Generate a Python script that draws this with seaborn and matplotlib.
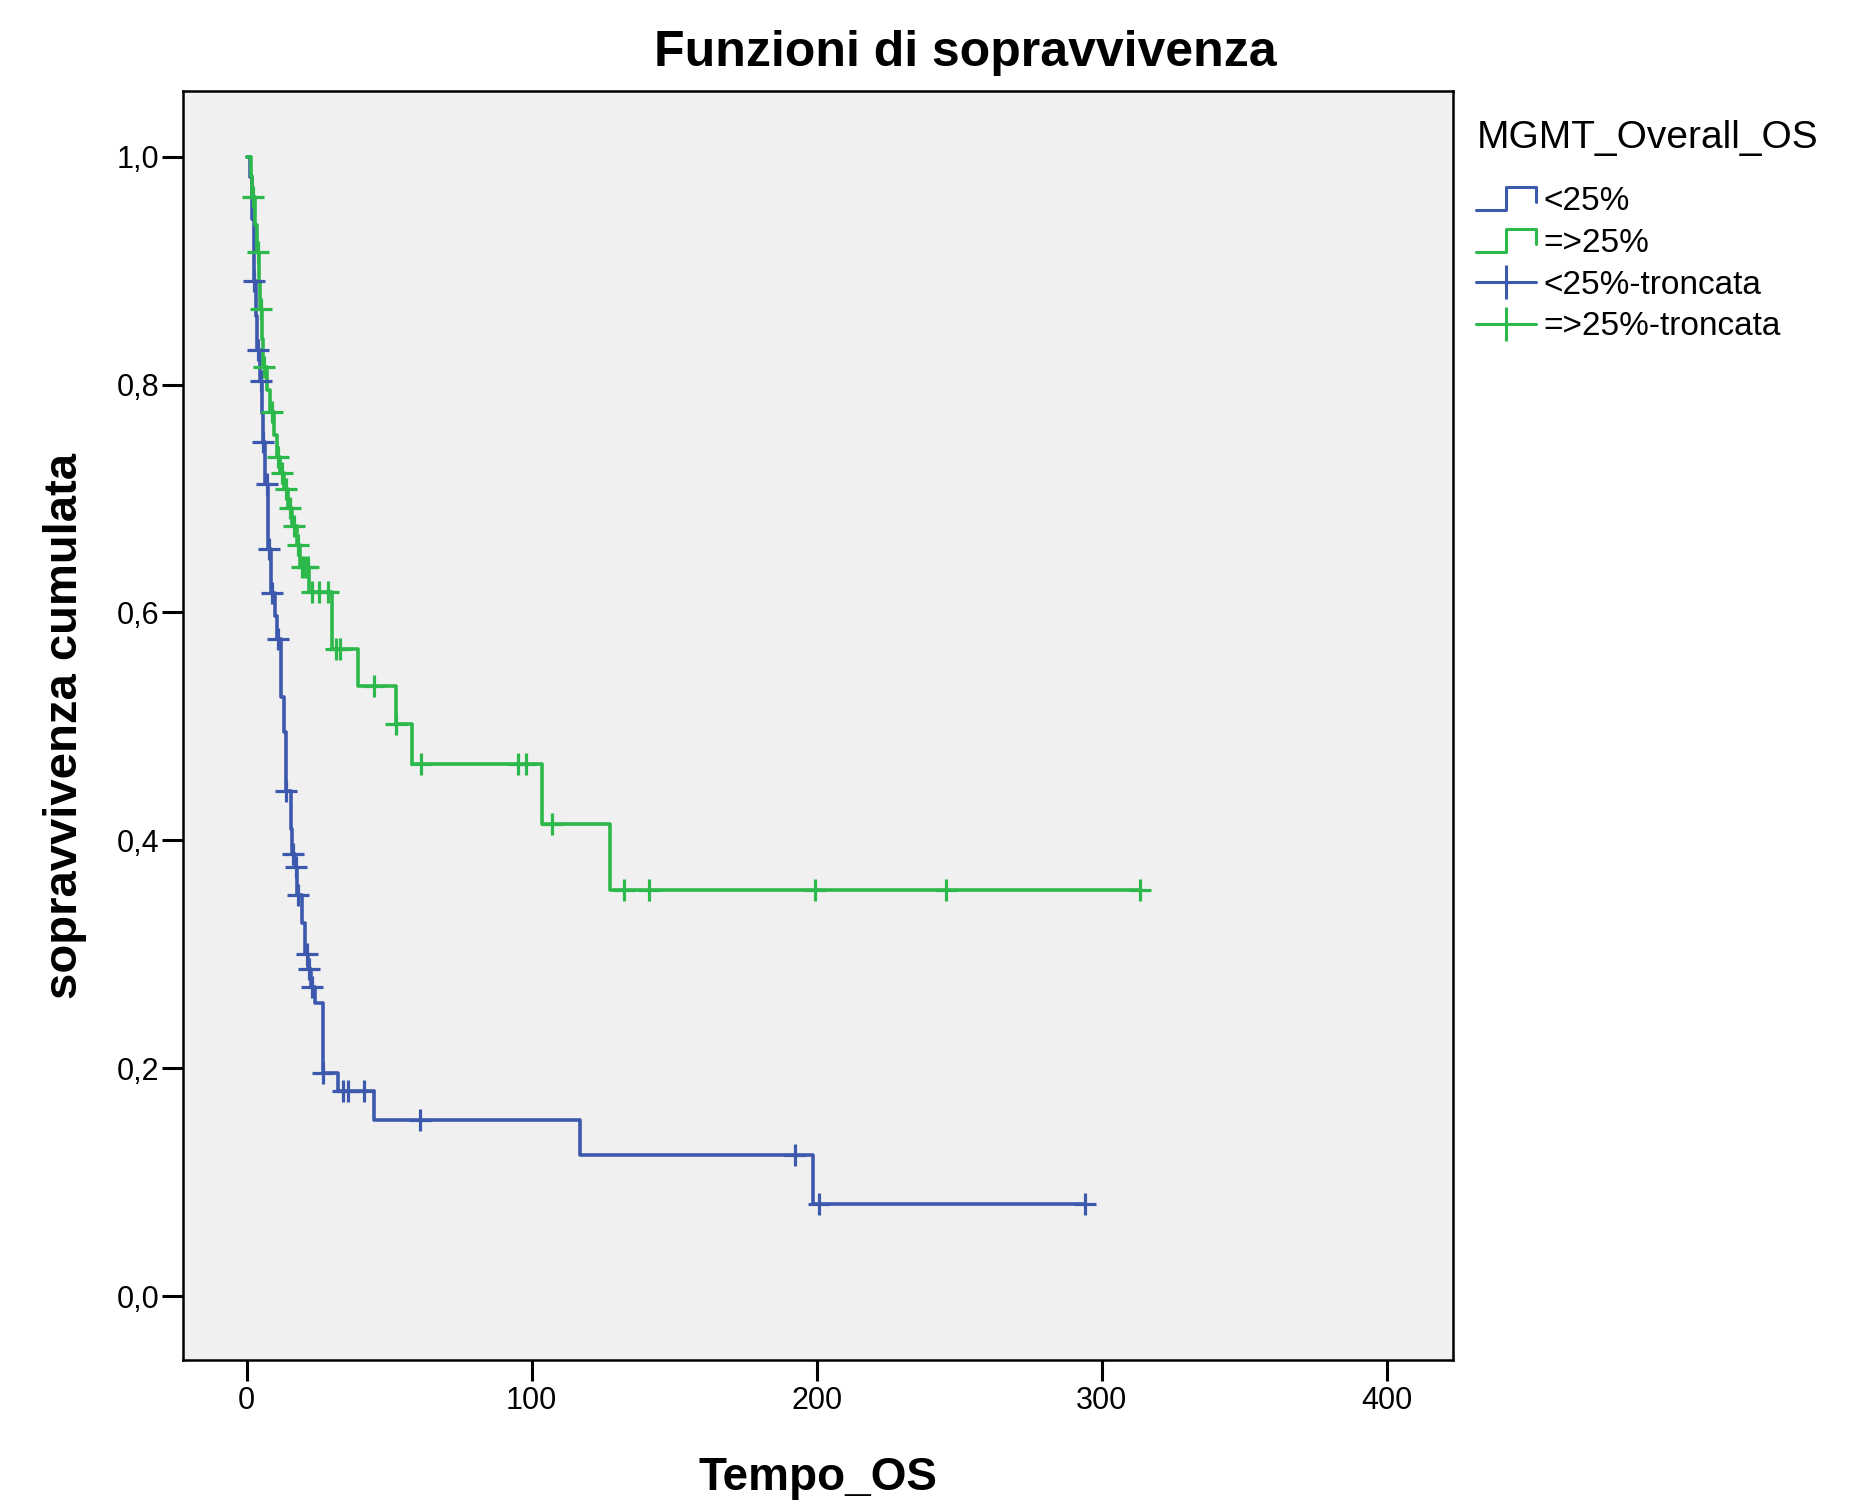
import matplotlib
matplotlib.use("Agg")
import matplotlib.pyplot as plt
import seaborn as sns
from matplotlib.lines import Line2D
from matplotlib.legend_handler import HandlerBase
from matplotlib.ticker import FuncFormatter

# step curves: time where the curve drops, survival after the drop
blu_t = [0, 1.2, 2.0, 2.4, 3.3, 3.7, 4.5, 5.3, 5.6, 6.5, 7.4, 7.6, 8.5, 10.0, 10.6, 12.0, 13.2,
         13.7, 15.5, 16.0, 16.8, 17.6, 19.3, 20.3, 21.6, 22.4, 24.0, 26.9, 32.1, 44.8, 117, 198.8, 294]
blu_s = [1.0, 0.982, 0.945, 0.891, 0.86, 0.830, 0.803, 0.775, 0.750, 0.713, 0.685, 0.656, 0.617,
         0.597, 0.577, 0.526, 0.495, 0.443, 0.410, 0.388, 0.377, 0.352, 0.327, 0.300, 0.287, 0.271,
         0.257, 0.196, 0.180, 0.1545, 0.124, 0.081, 0.081]

grn_t = [0, 1.5, 2.0, 3.0, 3.6, 4.3, 4.7, 5.3, 5.8, 7.0, 8.3, 9.5, 10.5, 11.8, 13.2, 14.5, 16.0,
         17.5, 18.8, 22.0, 30.0, 39.2, 52.3, 58.0, 103.5, 127.5, 313.3]
grn_s = [1.0, 0.983, 0.965, 0.94, 0.916, 0.89, 0.866, 0.84, 0.815, 0.795, 0.776, 0.756, 0.736,
         0.722, 0.708, 0.692, 0.676, 0.659, 0.640, 0.618, 0.568, 0.535, 0.502, 0.467, 0.414, 0.356, 0.356]

# censored cases (troncata)
blu_cens_t = [2.7, 3.9, 4.9, 5.8, 7.0, 7.8, 9.0, 11.1, 13.8, 16.1, 17.1, 18.1, 21.0, 22.0, 22.8,
              26.9, 33.9, 35.5, 41.2, 60.7, 192.5, 200.9, 294]
blu_cens_s = [0.891, 0.830, 0.803, 0.750, 0.713, 0.656, 0.617, 0.577, 0.443, 0.388, 0.377, 0.352,
              0.300, 0.287, 0.271, 0.196, 0.180, 0.180, 0.180, 0.1545, 0.124, 0.081, 0.081]
grn_cens_t = [2.3, 3.9, 4.9, 6.1, 8.8, 11.1, 12.3, 13.8, 15.0, 16.6, 18.1, 19.3, 20.5, 21.6, 22.8,
              25.5, 28.6, 31.3, 32.7, 44.7, 52.5, 61.0, 95.3, 98.0, 107.2, 132.3, 141.0, 199.3,
              245.4, 313.3]
grn_cens_s = [0.965, 0.916, 0.866, 0.815, 0.776, 0.736, 0.722, 0.708, 0.692, 0.676, 0.659, 0.640,
              0.640, 0.640, 0.618, 0.618, 0.618, 0.568, 0.568, 0.535, 0.502, 0.467, 0.467, 0.467,
              0.414, 0.356, 0.356, 0.356, 0.356, 0.356]

labels = ["<25%", "=>25%", "<25%-troncata", "=>25%-troncata"]
blue = "#3d59ae"
green = "#2cb84a"

sns.set_style("white")
plt.rcParams["font.family"] = ["Liberation Sans", "DejaVu Sans"]
plt.rcParams["text.color"] = "black"
plt.rcParams["axes.labelcolor"] = "black"

fig = plt.figure(figsize=(18.64, 15.06), dpi=100)
ax = fig.add_axes([0.098, 0.097, 0.6815, 0.8425])
ax.set_facecolor("#f0f0f0")

sns.lineplot(x=blu_t, y=blu_s, drawstyle="steps-post", estimator=None, sort=False,
             color=blue, lw=2.6, ax=ax)
sns.lineplot(x=grn_t, y=grn_s, drawstyle="steps-post", estimator=None, sort=False,
             color=green, lw=2.6, ax=ax)
sns.scatterplot(x=blu_cens_t, y=blu_cens_s, marker="+", s=260, linewidth=2.3, color=blue, ax=ax, zorder=3)
sns.scatterplot(x=grn_cens_t, y=grn_cens_s, marker="+", s=260, linewidth=2.3, color=green, ax=ax, zorder=3)

ax.set_xlim(-22.5, 423.3)
ax.set_ylim(-0.056, 1.0575)
ax.set_xticks([0, 100, 200, 300, 400])
ax.set_yticks([0, 0.2, 0.4, 0.6, 0.8, 1.0])
ax.yaxis.set_major_formatter(FuncFormatter(lambda v, p: f"{v:.1f}".replace(".", ",")))
ax.tick_params(axis="both", length=15, width=2.2, color="black", labelsize=22, labelcolor="black")
ax.tick_params(axis="x", pad=4)
ax.tick_params(axis="y", pad=2)
ax.tick_params(bottom=True, left=True)
for sp in ax.spines.values():
    sp.set_visible(True)
    sp.set_color("black")
    sp.set_linewidth(1.8)

ax.set_xlabel("Tempo_OS", fontsize=33, fontweight="bold", va="center")
ax.xaxis.set_label_coords(0.5, -0.093)
ax.set_ylabel("sopravvivenza cumulata", fontsize=34, fontweight="bold", va="center")
ax.yaxis.set_label_coords(-0.0927, 0.5)

fig.text(0.518, 0.9645, "Funzioni di sopravvivenza", fontsize=36, fontweight="bold",
         ha="center", va="center")


class StepHandler(HandlerBase):
    def create_artists(self, legend, orig_handle, xdescent, ydescent, width, height, fontsize, trans):
        x0, y0 = -xdescent, -ydescent
        xs = [x0, x0 + 0.5 * width, x0 + 0.5 * width, x0 + width, x0 + width]
        ys = [y0, y0, y0 + height, y0 + height, y0 + 0.35 * height]
        ln = Line2D(xs, ys, color=orig_handle.get_color(), lw=orig_handle.get_linewidth())
        ln.set_transform(trans)
        return [ln]


h_blu = Line2D([], [], color=blue, lw=2.2)
h_grn = Line2D([], [], color=green, lw=2.2)
h_blu_c = Line2D([0], [0], color=blue, lw=2.2, marker="|", ms=24, mew=2.2)
h_grn_c = Line2D([0], [0], color=green, lw=2.2, marker="|", ms=24, mew=2.2)

leg = ax.legend([h_blu, h_grn, h_blu_c, h_grn_c], labels,
                handler_map={h_blu: StepHandler(), h_grn: StepHandler()},
                loc="upper left", bbox_to_anchor=(1.008, 0.988), frameon=False,
                fontsize=24, title="MGMT_Overall_OS", title_fontsize=28, alignment="left",
                handlelength=1.8, handletextpad=0.2, labelspacing=0.32, borderaxespad=0,
                numpoints=1)
leg._legend_box.sep = 22  # extra gap under the legend title

fig.savefig("out.png", dpi=100, facecolor="white")
